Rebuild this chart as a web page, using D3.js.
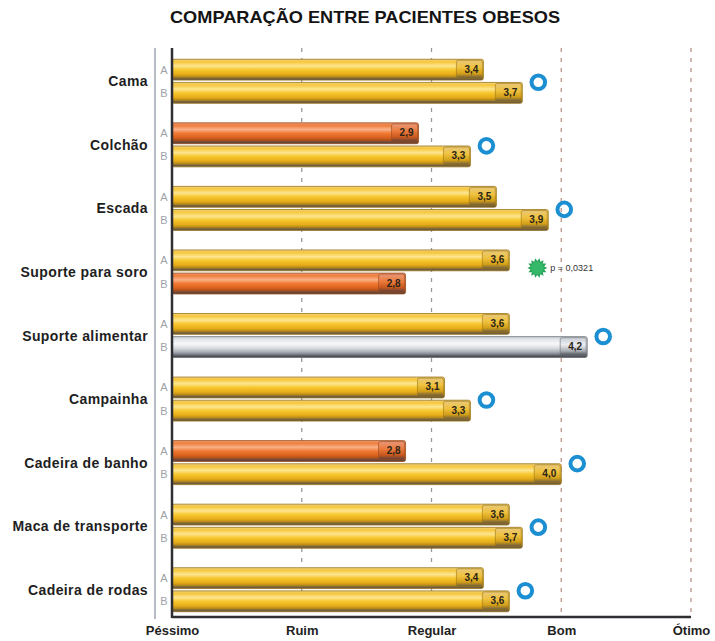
<!DOCTYPE html>
<html><head><meta charset="utf-8">
<script src="https://cdn.jsdelivr.net/npm/d3@7"></script>
<style>body{margin:0;background:#fff}svg{display:block}</style>
</head><body>
<script>
const categories = ["Cama","Colchão","Escada","Suporte para soro","Suporte alimentar","Campainha","Cadeira de banho","Maca de transporte","Cadeira de rodas"];
const groupA = [3.4,2.9,3.5,3.6,3.6,3.1,2.8,3.6,3.4];
const groupB = [3.7,3.3,3.9,2.8,4.2,3.3,4.0,3.7,3.6];
const significance = ["ns","ns","ns","p = 0,0321","ns","ns","ns","ns","ns"];
const tickLabels = ["Péssimo","Ruim","Regular","Bom","Ótimo"];
const tickValues = [1,2,3,4,5];
const groups = ["A","B"];
const title = "COMPARAÇÃO ENTRE PACIENTES OBESOS";

const W = 715, H = 641;
const svg = d3.select("body").append("svg").attr("width", W).attr("height", H);
const defs = svg.append("defs");
function grad(id, stops){
  const g = defs.append("linearGradient").attr("id", id).attr("x1",0).attr("y1",0).attr("x2",0).attr("y2",1);
  stops.forEach(s => g.append("stop").attr("offset", s[0]).attr("stop-color", s[1]));
}
grad("gY", [[0,"#f0d48a"],[0.12,"#f6c63a"],[0.32,"#fde690"],[0.5,"#f7c72e"],[0.72,"#e6ad18"],[0.84,"#b98a1c"],[0.92,"#7a6438"],[1,"#5a5048"]]);
grad("gO", [[0,"#f1a47a"],[0.12,"#ef7c3a"],[0.32,"#f9b088"],[0.5,"#f07a34"],[0.72,"#d9601c"],[0.84,"#a8501e"],[0.92,"#70483a"],[1,"#504640"]]);
grad("gG", [[0,"#cdd2d9"],[0.15,"#e4e7eb"],[0.35,"#f7f8fa"],[0.55,"#d9dce1"],[0.72,"#aeb3ba"],[0.84,"#80858d"],[0.92,"#55595f"],[1,"#45484d"]]);
grad("gYe", [[0,"#e8c878"],[0.4,"#f0c23e"],[0.75,"#d39f18"],[1,"#6a5a40"]]);
grad("gOe", [[0,"#e8987a"],[0.4,"#ec7a3c"],[0.75,"#c8581e"],[1,"#604038"]]);
grad("gGe", [[0,"#c8ccd3"],[0.4,"#eceef1"],[0.75,"#a6abb2"],[1,"#4a4d52"]]);
const tone = v => v < 3 ? "O" : (v > 4 ? "G" : "Y");
const edgeCol = {Y:"#9a7416", O:"#9a4a1c", G:"#6a6e75"};

const x = d3.scaleLinear().domain([1,5]).range([172, 691]);
const y = d3.scaleBand().domain(categories).range([49.5, 621.5]);
const yi = d3.scaleBand().domain(groups).range([y.bandwidth()/2 - 22, y.bandwidth()/2 + 22]).paddingInner(0.1);
const axisY = 617, topY = 48;

// title
svg.append("text").attr("x", 365).attr("y", 23).attr("text-anchor","middle")
  .attr("font-family","Liberation Sans, Arial, sans-serif").attr("font-weight","bold").attr("font-size",16.5)
  .attr("fill","#141414").attr("textLength", 390).attr("lengthAdjust","spacingAndGlyphs").text(title);

// gridlines
tickValues.slice(1).forEach(v => {
  svg.append("line").attr("x1", x(v)).attr("x2", x(v)).attr("y1", topY).attr("y2", axisY)
    .attr("stroke", v >= 4 ? "#b9958c" : "#9a9a9a").attr("stroke-width", 1.3).attr("stroke-dasharray","4,6");
});

// bracket line
svg.append("line").attr("x1",155).attr("x2",155).attr("y1",topY).attr("y2",axisY+2)
  .attr("stroke","#b8bcc4").attr("stroke-width",2);

const font = "Liberation Sans, Arial, sans-serif";
const rows = [];
categories.forEach((c,i) => {
  rows.push({cat:c, g:"A", v:groupA[i]});
  rows.push({cat:c, g:"B", v:groupB[i]});
});

const bar = svg.append("g").selectAll("g").data(rows).join("g")
  .attr("transform", d => `translate(0,${y(d.cat) + yi(d.g)})`);
const bh = yi.bandwidth();
bar.append("rect").attr("x", x(1)).attr("y", 0).attr("width", d => x(d.v) - x(1)).attr("height", bh)
  .attr("rx", 2).attr("fill", d => `url(#g${tone(d.v)})`)
  .attr("stroke", d => edgeCol[tone(d.v)]).attr("stroke-width", 0.8);
bar.append("rect").attr("x", d => x(d.v) - 27).attr("y", 1).attr("width", 26).attr("height", bh - 3)
  .attr("rx", 2).attr("fill", d => `url(#g${tone(d.v)}e)`)
  .attr("stroke", d => edgeCol[tone(d.v)]).attr("stroke-width", 0.6);
bar.append("text").attr("x", d => x(d.v) - 5).attr("y", bh/2 + 3).attr("text-anchor","end")
  .attr("font-family", font).attr("font-weight","bold").attr("font-size",10).attr("fill","#2a2418")
  .text(d => d3.format(".1f")(d.v).replace(".", ","));
bar.append("text").attr("x", 164).attr("y", bh/2 + 4).attr("text-anchor","middle")
  .attr("font-family", font).attr("font-size",11).attr("fill","#9ea2a8").text(d => d.g);

// category labels
svg.append("g").selectAll("text").data(categories).join("text")
  .attr("x", 148).attr("y", d => y(d) + y.bandwidth()/2 + 5).attr("text-anchor","end")
  .attr("font-family", font).attr("font-weight","bold").attr("font-size",14).attr("fill","#1e1e1e")
  .attr("letter-spacing", 0.4).text(d => d);

// axes lines
svg.append("line").attr("x1", x(1)).attr("x2", x(1)).attr("y1", topY).attr("y2", axisY+1)
  .attr("stroke","#2e2e33").attr("stroke-width",2.5);
svg.append("line").attr("x1", x(1)).attr("x2", x(5)).attr("y1", axisY).attr("y2", axisY)
  .attr("stroke","#2e2e33").attr("stroke-width",2.5);

const xAxis = d3.axisBottom(x).tickValues(tickValues).tickSize(0).tickPadding(0)
  .tickFormat((d,i) => tickLabels[i]);
const ax = svg.append("g").attr("transform", `translate(0,${axisY + 6})`).call(xAxis);
ax.select(".domain").remove();
ax.selectAll("text").attr("font-family", font).attr("font-weight","bold").attr("font-size",13).attr("fill","#222").attr("dy","0.9em");

// significance markers
categories.forEach((c,i) => {
  const m = Math.max(groupA[i], groupB[i]);
  const cy = y(c) + y.bandwidth()/2;
  if (significance[i] === "ns") {
    svg.append("circle").attr("cx", x(m) + 16).attr("cy", cy + 1).attr("r", 6.8)
      .attr("fill","none").attr("stroke","#1b8fd2").attr("stroke-width",4);
  } else {
    const cx = x(m) + 28, sy = cy - 4, n = 14;
    const pts = d3.range(n*2).map(k => {
      const r = k % 2 ? 7 : 10, a = k * Math.PI / n;
      return [cx + r*Math.cos(a), sy + r*Math.sin(a)];
    });
    svg.append("polygon").attr("points", pts.map(p => p.join(",")).join(" ")).attr("fill","#2aa35a");
    svg.append("circle").attr("cx", cx).attr("cy", sy).attr("r", 6.5).attr("fill","#35b868");
    svg.append("text").attr("x", cx + 13).attr("y", sy + 3.5).attr("font-family", font)
      .attr("font-size", 9).attr("fill","#333").text(significance[i]);
  }
});
</script>
</body></html>
